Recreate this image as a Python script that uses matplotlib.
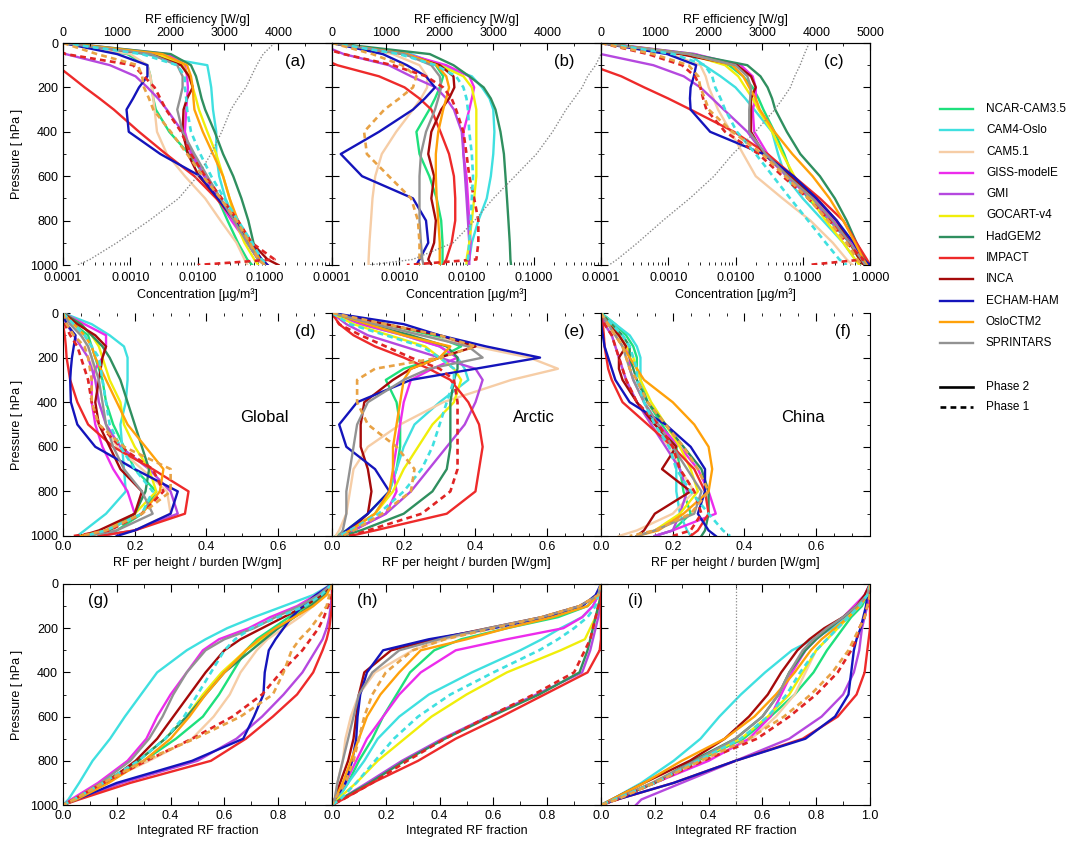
import matplotlib.pyplot as plt
from matplotlib.lines import Line2D
from matplotlib.ticker import FixedLocator, MultipleLocator, LogLocator, NullFormatter

plt.rcParams['font.family'] = ['Liberation Sans', 'DejaVu Sans']
plt.rcParams['font.size'] = 9

# pressure levels [hPa], shared by every profile
levels = [0, 50, 100, 150, 200, 250, 300, 400, 500, 600, 700, 800, 900, 975, 1000]

models = ['NCAR-CAM3.5', 'CAM4-Oslo', 'CAM5.1', 'GISS-modelE', 'GMI', 'GOCART-v4',
          'HadGEM2', 'IMPACT', 'INCA', 'ECHAM-HAM', 'OsloCTM2', 'SPRINTARS']
colors = ['#1ee07c', '#3fe0e0', '#f6cda6', '#ec2cec', '#b548df', '#f0ee0a',
          '#2f8f5f', '#ee2a2a', '#a50a0a', '#1414bb', '#ffa10a', '#929292']
phase1 = ['IMPACT', 'CAM4-Oslo', 'OsloCTM2']
phase1_colors = ['#e02424', '#3fe0e0', '#e8a245']

# (a) concentration, global [ug/m3]
conc_global = {
    'NCAR-CAM3.5': [1.0e-4, 9.0e-4, 1.8e-3, 2.0e-3, 2.1e-3, 2.2e-3, 2.4e-3, 3.8e-3, 7.5e-3, 1.3e-2, 2.0e-2, 2.8e-2, 4.0e-2, 5.5e-2, 6.5e-2],
    'CAM4-Oslo': [1.2e-4, 1.6e-3, 1.4e-2, 1.5e-2, 1.6e-2, 1.65e-2, 1.7e-2, 1.9e-2, 1.9e-2, 2.1e-2, 2.6e-2, 3.6e-2, 5.5e-2, 8.0e-2, 1.0e-1],
    'CAM5.1': [1.0e-4, 1.0e-3, 1.8e-3, 2.0e-3, 2.1e-3, 2.2e-3, 2.3e-3, 2.5e-3, 3.5e-3, 6.5e-3, 1.3e-2, 2.2e-2, 3.8e-2, 5.0e-2, 5.5e-2],
    'GISS-modelE': [1.1e-4, 3.6e-3, 6.5e-3, 7.0e-3, 7.2e-3, 7.0e-3, 6.8e-3, 6.5e-3, 8.0e-3, 1.3e-2, 2.0e-2, 3.2e-2, 5.5e-2, 8.0e-2, 1.0e-1],
    'GMI': [5.0e-5, 1.1e-4, 5.0e-4, 1.2e-3, 1.8e-3, 2.6e-3, 3.5e-3, 6.0e-3, 8.5e-3, 1.25e-2, 2.2e-2, 3.5e-2, 5.5e-2, 8.0e-2, 1.0e-1],
    'GOCART-v4': [1.1e-4, 2.5e-3, 6.0e-3, 7.5e-3, 8.5e-3, 9.5e-3, 1.05e-2, 1.4e-2, 1.9e-2, 2.4e-2, 3.0e-2, 3.6e-2, 5.0e-2, 7.0e-2, 8.0e-2],
    'HadGEM2': [1.1e-4, 4.0e-3, 8.0e-3, 9.5e-3, 1.05e-2, 1.15e-2, 1.3e-2, 1.8e-2, 2.4e-2, 3.4e-2, 4.5e-2, 5.7e-2, 6.8e-2, 8.5e-2, 1.0e-1],
    'IMPACT': [3.0e-5, 5.0e-5, 8.0e-5, 1.3e-4, 2.1e-4, 3.5e-4, 5.7e-4, 1.35e-3, 3.4e-3, 9.0e-3, 1.9e-2, 3.6e-2, 6.0e-2, 9.0e-2, 1.1e-1],
    'INCA': [1.0e-4, 2.0e-3, 5.7e-3, 7.5e-3, 8.5e-3, 7.0e-3, 6.2e-3, 6.0e-3, 7.2e-3, 1.05e-2, 2.0e-2, 3.6e-2, 6.4e-2, 1.1e-1, 1.6e-1],
    'ECHAM-HAM': [1.0e-4, 6.4e-4, 1.8e-3, 1.8e-3, 1.35e-3, 1.1e-3, 8.8e-4, 9.5e-4, 2.8e-3, 1.1e-2, 2.0e-2, 3.6e-2, 6.0e-2, 9.0e-2, 1.1e-1],
    'OsloCTM2': [1.1e-4, 3.0e-3, 7.0e-3, 8.0e-3, 8.5e-3, 8.7e-3, 9.0e-3, 1.2e-2, 1.7e-2, 2.4e-2, 3.0e-2, 4.0e-2, 6.0e-2, 8.5e-2, 1.0e-1],
    'SPRINTARS': [1.0e-4, 2.0e-3, 5.0e-3, 6.0e-3, 6.0e-3, 5.5e-3, 5.0e-3, 6.0e-3, 9.0e-3, 1.4e-2, 2.2e-2, 3.5e-2, 5.5e-2, 8.0e-2, 1.0e-1],
    'IMPACT p1': [5.0e-5, 1.1e-4, 1.1e-3, 1.6e-3, 2.3e-3, 2.8e-3, 3.4e-3, 5.7e-3, 8.0e-3, 1.3e-2, 2.3e-2, 4.0e-2, 6.4e-2, 1.4e-1, 1.0e-2],
    'CAM4-Oslo p1': [1.0e-4, 1.5e-3, 5.0e-3, 6.5e-3, 6.5e-3, 6.8e-3, 7.0e-3, 8.0e-3, 1.1e-2, 1.6e-2, 2.5e-2, 4.0e-2, 6.5e-2, 9.0e-2, 1.1e-1],
    'OsloCTM2 p1': [1.0e-4, 3.2e-4, 1.3e-3, 1.5e-3, 1.6e-3, 1.9e-3, 2.2e-3, 4.0e-3, 7.0e-3, 1.2e-2, 2.2e-2, 3.8e-2, 6.0e-2, 8.0e-2, 1.0e-1],
}

# (b) concentration, Arctic
conc_arctic = {
    'NCAR-CAM3.5': [1.0e-4, 1.3e-3, 3.5e-3, 4.5e-3, 4.0e-3, 3.4e-3, 2.8e-3, 1.8e-3, 2.0e-3, 2.8e-3, 3.6e-3, 4.2e-3, 4.4e-3, 4.4e-3, 4.4e-3],
    'CAM4-Oslo': [1.0e-4, 1.5e-3, 4.0e-3, 1.2e-2, 1.7e-2, 2.2e-2, 2.5e-2, 2.6e-2, 2.5e-2, 2.3e-2, 2.0e-2, 1.5e-2, 1.2e-2, 1.1e-2, 1.0e-2],
    'CAM5.1': [1.0e-4, 8.0e-4, 2.0e-3, 2.6e-3, 2.6e-3, 2.1e-3, 1.6e-3, 9.0e-4, 5.5e-4, 4.4e-4, 4.0e-4, 3.8e-4, 3.6e-4, 3.5e-4, 3.5e-4],
    'GISS-modelE': [1.0e-4, 1.3e-3, 5.0e-3, 1.1e-2, 1.3e-2, 1.2e-2, 1.1e-2, 9.0e-3, 9.0e-3, 1.0e-2, 1.05e-2, 1.1e-2, 1.15e-2, 1.1e-2, 1.05e-2],
    'GMI': [6.0e-5, 1.5e-4, 7.0e-4, 1.5e-3, 3.5e-3, 5.0e-3, 6.5e-3, 8.5e-3, 9.0e-3, 9.5e-3, 1.0e-2, 1.05e-2, 1.1e-2, 1.1e-2, 1.1e-2],
    'GOCART-v4': [1.0e-4, 1.2e-3, 4.0e-3, 9.0e-3, 1.2e-2, 1.3e-2, 1.4e-2, 1.4e-2, 1.4e-2, 1.4e-2, 1.3e-2, 1.2e-2, 1.1e-2, 1.0e-2, 1.0e-2],
    'HadGEM2': [1.0e-4, 2.85e-3, 6.4e-3, 1.1e-2, 1.8e-2, 2.3e-2, 2.7e-2, 3.2e-2, 3.6e-2, 3.8e-2, 4.0e-2, 4.2e-2, 4.4e-2, 4.5e-2, 4.6e-2],
    'IMPACT': [3.0e-5, 5.0e-5, 1.2e-4, 5.0e-4, 1.2e-3, 2.0e-3, 3.0e-3, 4.1e-3, 5.5e-3, 6.5e-3, 6.8e-3, 6.8e-3, 6.0e-3, 5.0e-3, 4.5e-3],
    'INCA': [1.0e-4, 1.2e-3, 4.0e-3, 6.4e-3, 6.6e-3, 5.5e-3, 4.2e-3, 3.0e-3, 2.7e-3, 3.3e-3, 3.0e-3, 3.5e-3, 3.3e-3, 2.7e-3, 3.0e-3],
    'ECHAM-HAM': [1.0e-4, 5.7e-4, 1.3e-3, 2.5e-3, 3.4e-3, 2.4e-3, 1.6e-3, 5.0e-4, 1.35e-4, 2.8e-4, 1.6e-3, 2.5e-3, 2.7e-3, 2.0e-3, 1.8e-3],
    'OsloCTM2': [1.0e-4, 1.3e-3, 3.6e-3, 5.0e-3, 5.5e-3, 5.0e-3, 4.5e-3, 3.8e-3, 3.5e-3, 3.5e-3, 3.6e-3, 3.8e-3, 4.0e-3, 4.0e-3, 4.0e-3],
    'SPRINTARS': [1.0e-4, 1.2e-3, 3.0e-3, 4.0e-3, 4.2e-3, 3.8e-3, 3.4e-3, 2.5e-3, 2.1e-3, 2.0e-3, 2.0e-3, 2.0e-3, 2.1e-3, 2.2e-3, 2.3e-3],
    'IMPACT p1': [4.0e-5, 1.5e-4, 8.0e-4, 2.5e-3, 4.5e-3, 6.0e-3, 7.0e-3, 9.0e-3, 1.0e-2, 1.1e-2, 1.3e-2, 1.5e-2, 1.5e-2, 1.4e-2, 1.3e-3],
    'CAM4-Oslo p1': [1.0e-4, 1.0e-3, 3.5e-3, 7.0e-3, 9.0e-3, 1.0e-2, 1.05e-2, 1.1e-2, 1.2e-2, 1.25e-2, 1.2e-2, 1.15e-2, 1.1e-2, 1.05e-2, 1.0e-2],
    'OsloCTM2 p1': [1.0e-4, 4.0e-4, 1.1e-3, 1.8e-3, 1.6e-3, 1.0e-3, 6.0e-4, 3.0e-4, 3.3e-4, 7.0e-4, 1.5e-3, 1.9e-3, 2.0e-3, 2.0e-3, 2.0e-3],
}

# (c) concentration, China
conc_china = {
    'NCAR-CAM3.5': [1.0e-4, 2.5e-3, 8.0e-3, 1.3e-2, 1.8e-2, 2.2e-2, 2.6e-2, 3.8e-2, 5.3e-2, 7.0e-2, 1.2e-1, 2.5e-1, 5.0e-1, 7.0e-1, 8.0e-1],
    'CAM4-Oslo': [1.0e-4, 2.0e-3, 3.4e-3, 6.0e-3, 1.0e-2, 1.4e-2, 1.9e-2, 3.5e-2, 4.3e-2, 5.5e-2, 1.0e-1, 2.0e-1, 4.0e-1, 6.0e-1, 7.0e-1],
    'CAM5.1': [1.0e-4, 1.1e-3, 3.0e-3, 3.6e-3, 4.0e-3, 4.7e-3, 5.5e-3, 8.5e-3, 1.3e-2, 2.0e-2, 5.0e-2, 1.3e-1, 2.8e-1, 4.5e-1, 5.5e-1],
    'GISS-modelE': [1.1e-4, 2.5e-3, 1.2e-2, 1.8e-2, 2.0e-2, 2.0e-2, 1.8e-2, 1.9e-2, 3.0e-2, 6.5e-2, 1.5e-1, 3.0e-1, 5.5e-1, 8.0e-1, 9.0e-1],
    'GMI': [5.0e-5, 1.0e-4, 6.0e-4, 1.7e-3, 3.0e-3, 4.5e-3, 6.7e-3, 1.5e-2, 2.65e-2, 5.8e-2, 1.3e-1, 2.6e-1, 5.0e-1, 8.0e-1, 1.0],
    'GOCART-v4': [1.0e-4, 2.0e-3, 7.0e-3, 1.1e-2, 1.4e-2, 1.8e-2, 2.2e-2, 3.5e-2, 5.0e-2, 7.5e-2, 1.3e-1, 2.2e-1, 4.0e-1, 6.0e-1, 7.0e-1],
    'HadGEM2': [1.0e-4, 2.15e-3, 1.5e-2, 2.35e-2, 3.0e-2, 3.5e-2, 3.9e-2, 5.8e-2, 9.2e-2, 1.8e-1, 3.0e-1, 4.5e-1, 6.3e-1, 8.5e-1, 9.5e-1],
    'IMPACT': [3.0e-5, 5.0e-5, 7.0e-5, 2.0e-4, 4.4e-4, 1.0e-3, 2.15e-3, 9.5e-3, 3.0e-2, 7.3e-2, 1.8e-1, 4.0e-1, 6.3e-1, 9.0e-1, 1.0],
    'INCA': [1.0e-4, 1.5e-3, 1.05e-2, 1.7e-2, 2.0e-2, 1.7e-2, 1.7e-2, 1.7e-2, 2.65e-2, 6.5e-2, 1.6e-1, 3.2e-1, 5.0e-1, 7.0e-1, 8.0e-1],
    'ECHAM-HAM': [1.0e-4, 9.7e-4, 2.6e-3, 2.4e-3, 2.15e-3, 2.1e-3, 2.15e-3, 4.2e-3, 2.6e-2, 7.3e-2, 1.6e-1, 3.2e-1, 5.7e-1, 8.0e-1, 1.0],
    'OsloCTM2': [1.0e-4, 2.0e-3, 9.0e-3, 1.3e-2, 1.6e-2, 2.0e-2, 2.3e-2, 3.8e-2, 7.0e-2, 1.4e-1, 2.5e-1, 4.0e-1, 6.0e-1, 8.0e-1, 9.0e-1],
    'SPRINTARS': [1.0e-4, 2.0e-3, 1.0e-2, 1.5e-2, 1.7e-2, 1.65e-2, 1.6e-2, 1.6e-2, 2.8e-2, 6.0e-2, 1.4e-1, 2.8e-1, 5.0e-1, 7.5e-1, 8.5e-1],
    'IMPACT p1': [1.0e-4, 5.0e-4, 1.6e-3, 2.5e-3, 3.0e-3, 3.3e-3, 3.7e-3, 7.0e-3, 2.2e-2, 5.0e-2, 1.2e-1, 2.5e-1, 4.5e-1, 8.0e-1, 1.2e-1],
    'CAM4-Oslo p1': [1.0e-4, 1.2e-3, 3.5e-3, 4.5e-3, 5.0e-3, 6.0e-3, 7.0e-3, 1.05e-2, 2.0e-2, 3.6e-2, 6.5e-2, 1.2e-1, 2.2e-1, 3.5e-1, 4.5e-1],
    'OsloCTM2 p1': [1.0e-4, 6.0e-4, 2.0e-3, 2.8e-3, 3.0e-3, 3.5e-3, 4.0e-3, 9.0e-3, 2.5e-2, 5.5e-2, 1.2e-1, 2.4e-1, 4.5e-1, 6.5e-1, 7.5e-1],
}

# RF efficiency [W/g] (dotted, top axis)
eff_global = [3930, 3720, 3600, 3500, 3400, 3250, 3120, 2950, 2750, 2500, 2150, 1600, 1000, 500, 270]
eff_arctic = [5200, 5000, 4900, 4750, 4650, 4500, 4350, 4100, 3800, 3400, 3000, 2650, 2250, 1500, 700]
eff_china = [3870, 3780, 3700, 3600, 3520, 3380, 3230, 2870, 2450, 2100, 1650, 1150, 680, 300, 150]

# (d)-(f) RF per height / burden [W/gm]
rfh_global = {
    'NCAR-CAM3.5': [0, 0.03, 0.07, 0.08, 0.09, 0.10, 0.11, 0.12, 0.14, 0.17, 0.20, 0.26, 0.22, 0.15, 0.12],
    'CAM4-Oslo': [0, 0.08, 0.13, 0.17, 0.18, 0.18, 0.18, 0.175, 0.16, 0.165, 0.17, 0.175, 0.12, 0.06, 0.04],
    'CAM5.1': [0, 0.02, 0.05, 0.07, 0.08, 0.085, 0.09, 0.10, 0.12, 0.15, 0.22, 0.29, 0.30, 0.20, 0.10],
    'GISS-modelE': [0, 0.06, 0.12, 0.12, 0.11, 0.09, 0.08, 0.08, 0.09, 0.11, 0.14, 0.18, 0.20, 0.12, 0.06],
    'GMI': [0, 0.01, 0.03, 0.05, 0.07, 0.08, 0.09, 0.10, 0.12, 0.16, 0.24, 0.30, 0.32, 0.20, 0.10],
    'GOCART-v4': [0, 0.05, 0.08, 0.10, 0.11, 0.12, 0.13, 0.16, 0.17, 0.20, 0.24, 0.26, 0.20, 0.12, 0.08],
    'HadGEM2': [0, 0.05, 0.08, 0.11, 0.13, 0.145, 0.16, 0.18, 0.20, 0.22, 0.24, 0.23, 0.20, 0.13, 0.10],
    'IMPACT': [0, 0.0, 0.005, 0.008, 0.01, 0.015, 0.02, 0.04, 0.07, 0.14, 0.25, 0.35, 0.34, 0.20, 0.10],
    'INCA': [0, 0.04, 0.09, 0.12, 0.11, 0.105, 0.10, 0.09, 0.10, 0.13, 0.16, 0.22, 0.20, 0.10, 0.05],
    'ECHAM-HAM': [0, 0.01, 0.035, 0.03, 0.025, 0.022, 0.02, 0.022, 0.04, 0.09, 0.20, 0.32, 0.30, 0.20, 0.15],
    'OsloCTM2': [0, 0.03, 0.06, 0.08, 0.09, 0.105, 0.12, 0.15, 0.18, 0.23, 0.28, 0.27, 0.22, 0.12, 0.05],
    'SPRINTARS': [0, 0.02, 0.05, 0.07, 0.08, 0.09, 0.10, 0.11, 0.12, 0.14, 0.17, 0.22, 0.25, 0.15, 0.07],
    'IMPACT p1': [0, 0.005, 0.02, 0.04, 0.05, 0.06, 0.07, 0.08, 0.10, 0.16, 0.25, 0.28, 0.22, 0.13, 0.03],
    'CAM4-Oslo p1': [0, 0.03, 0.06, 0.08, 0.10, 0.105, 0.11, 0.12, 0.13, 0.16, 0.20, 0.25, 0.22, 0.12, 0.06],
    'OsloCTM2 p1': [0, 0.01, 0.03, 0.06, 0.07, 0.075, 0.08, 0.08, 0.10, 0.17, 0.30, 0.30, 0.22, 0.12, 0.05],
}

rfh_arctic = {
    'NCAR-CAM3.5': [0, 0.15, 0.28, 0.36, 0.30, 0.20, 0.15, 0.18, 0.19, 0.19, 0.18, 0.16, 0.10, 0.04, 0.01],
    'CAM4-Oslo': [0, 0.08, 0.20, 0.30, 0.35, 0.37, 0.38, 0.30, 0.23, 0.20, 0.18, 0.16, 0.12, 0.05, 0.02],
    'CAM5.1': [0, 0.12, 0.25, 0.40, 0.55, 0.63, 0.50, 0.31, 0.19, 0.10, 0.06, 0.05, 0.04, 0.02, 0.01],
    'GISS-modelE': [0, 0.08, 0.20, 0.30, 0.35, 0.28, 0.22, 0.20, 0.19, 0.18, 0.17, 0.18, 0.15, 0.06, 0.02],
    'GMI': [0, 0.04, 0.10, 0.20, 0.30, 0.40, 0.42, 0.40, 0.37, 0.32, 0.27, 0.22, 0.15, 0.06, 0.02],
    'GOCART-v4': [0, 0.06, 0.16, 0.26, 0.30, 0.34, 0.36, 0.34, 0.28, 0.24, 0.20, 0.17, 0.12, 0.05, 0.02],
    'HadGEM2': [0, 0.10, 0.22, 0.32, 0.35, 0.35, 0.34, 0.33, 0.33, 0.33, 0.32, 0.28, 0.20, 0.08, 0.03],
    'IMPACT': [0, 0.02, 0.06, 0.12, 0.20, 0.27, 0.33, 0.38, 0.41, 0.42, 0.41, 0.40, 0.32, 0.12, 0.05],
    'INCA': [0, 0.15, 0.30, 0.40, 0.30, 0.22, 0.17, 0.09, 0.08, 0.08, 0.10, 0.11, 0.10, 0.05, 0.03],
    'ECHAM-HAM': [0, 0.20, 0.30, 0.43, 0.58, 0.40, 0.22, 0.07, 0.02, 0.04, 0.12, 0.16, 0.10, 0.04, 0.02],
    'OsloCTM2': [0, 0.10, 0.20, 0.33, 0.30, 0.22, 0.20, 0.19, 0.18, 0.17, 0.17, 0.16, 0.12, 0.05, 0.02],
    'SPRINTARS': [0, 0.12, 0.25, 0.38, 0.42, 0.27, 0.20, 0.10, 0.07, 0.06, 0.05, 0.04, 0.04, 0.03, 0.02],
    'IMPACT p1': [0, 0.02, 0.08, 0.15, 0.22, 0.30, 0.34, 0.35, 0.35, 0.35, 0.35, 0.33, 0.25, 0.10, 0.05],
    'CAM4-Oslo p1': [0, 0.05, 0.15, 0.25, 0.30, 0.34, 0.34, 0.32, 0.30, 0.28, 0.25, 0.20, 0.13, 0.05, 0.02],
    'OsloCTM2 p1': [0, 0.15, 0.30, 0.40, 0.30, 0.12, 0.07, 0.07, 0.10, 0.18, 0.23, 0.22, 0.14, 0.06, 0.03],
}

rfh_china = {
    'NCAR-CAM3.5': [0, 0.04, 0.07, 0.09, 0.10, 0.10, 0.11, 0.13, 0.17, 0.21, 0.22, 0.23, 0.25, 0.20, 0.15],
    'CAM4-Oslo': [0, 0.04, 0.08, 0.10, 0.11, 0.11, 0.11, 0.12, 0.15, 0.20, 0.21, 0.21, 0.22, 0.24, 0.25],
    'CAM5.1': [0, 0.01, 0.03, 0.04, 0.05, 0.06, 0.07, 0.10, 0.14, 0.19, 0.22, 0.26, 0.20, 0.10, 0.05],
    'GISS-modelE': [0, 0.02, 0.05, 0.07, 0.08, 0.08, 0.09, 0.12, 0.16, 0.22, 0.27, 0.30, 0.32, 0.20, 0.15],
    'GMI': [0, 0.01, 0.03, 0.04, 0.05, 0.06, 0.07, 0.10, 0.14, 0.18, 0.22, 0.24, 0.22, 0.20, 0.15],
    'GOCART-v4': [0, 0.03, 0.05, 0.07, 0.09, 0.10, 0.11, 0.14, 0.18, 0.22, 0.25, 0.27, 0.22, 0.15, 0.10],
    'HadGEM2': [0, 0.03, 0.06, 0.08, 0.08, 0.09, 0.10, 0.13, 0.18, 0.23, 0.28, 0.30, 0.30, 0.29, 0.28],
    'IMPACT': [0, 0.005, 0.008, 0.01, 0.015, 0.02, 0.03, 0.06, 0.13, 0.20, 0.26, 0.29, 0.30, 0.27, 0.25],
    'INCA': [0, 0.02, 0.05, 0.07, 0.05, 0.05, 0.06, 0.10, 0.15, 0.21, 0.17, 0.25, 0.15, 0.12, 0.10],
    'ECHAM-HAM': [0, 0.0, 0.005, 0.01, 0.02, 0.03, 0.04, 0.08, 0.18, 0.25, 0.29, 0.29, 0.27, 0.30, 0.32],
    'OsloCTM2': [0, 0.02, 0.04, 0.06, 0.08, 0.10, 0.12, 0.20, 0.26, 0.30, 0.31, 0.30, 0.23, 0.16, 0.10],
    'SPRINTARS': [0, 0.02, 0.04, 0.06, 0.07, 0.08, 0.09, 0.12, 0.16, 0.20, 0.24, 0.28, 0.26, 0.15, 0.10],
    'IMPACT p1': [0, 0.01, 0.03, 0.04, 0.05, 0.06, 0.07, 0.10, 0.16, 0.20, 0.22, 0.26, 0.28, 0.25, 0.20],
    'CAM4-Oslo p1': [0, 0.03, 0.06, 0.08, 0.09, 0.10, 0.10, 0.12, 0.15, 0.19, 0.21, 0.25, 0.30, 0.34, 0.36],
    'OsloCTM2 p1': [0, 0.02, 0.04, 0.06, 0.07, 0.08, 0.10, 0.13, 0.18, 0.23, 0.27, 0.30, 0.25, 0.15, 0.08],
}

# (g)-(i) integrated RF fraction
cum_global = {
    'NCAR-CAM3.5': [1.0, 0.97, 0.91, 0.84, 0.78, 0.72, 0.68, 0.63, 0.58, 0.52, 0.42, 0.30, 0.15, 0.04, 0.0],
    'CAM4-Oslo': [1.0, 0.93, 0.82, 0.71, 0.61, 0.53, 0.46, 0.35, 0.29, 0.23, 0.175, 0.11, 0.06, 0.02, 0.0],
    'CAM5.1': [1.0, 0.97, 0.93, 0.88, 0.82, 0.76, 0.72, 0.66, 0.62, 0.56, 0.48, 0.32, 0.15, 0.04, 0.0],
    'GISS-modelE': [1.0, 0.94, 0.87, 0.77, 0.69, 0.58, 0.52, 0.46, 0.40, 0.35, 0.31, 0.24, 0.13, 0.03, 0.0],
    'GMI': [1.0, 1.0, 0.995, 0.99, 0.98, 0.965, 0.94, 0.89, 0.82, 0.74, 0.645, 0.50, 0.22, 0.05, 0.0],
    'GOCART-v4': [1.0, 0.97, 0.92, 0.86, 0.80, 0.74, 0.68, 0.59, 0.52, 0.46, 0.38, 0.28, 0.15, 0.04, 0.0],
    'HadGEM2': [1.0, 0.97, 0.92, 0.86, 0.80, 0.75, 0.70, 0.60, 0.53, 0.46, 0.38, 0.28, 0.15, 0.04, 0.0],
    'IMPACT': [1.0, 1.0, 1.0, 0.995, 0.99, 0.98, 0.965, 0.93, 0.87, 0.78, 0.68, 0.55, 0.25, 0.06, 0.0],
    'INCA': [1.0, 0.96, 0.90, 0.82, 0.74, 0.66, 0.60, 0.53, 0.47, 0.41, 0.35, 0.27, 0.16, 0.04, 0.0],
    'ECHAM-HAM': [1.0, 0.94, 0.89, 0.85, 0.82, 0.79, 0.765, 0.75, 0.745, 0.71, 0.67, 0.48, 0.20, 0.05, 0.0],
    'OsloCTM2': [1.0, 0.98, 0.93, 0.86, 0.79, 0.73, 0.68, 0.60, 0.53, 0.47, 0.40, 0.30, 0.17, 0.05, 0.0],
    'SPRINTARS': [1.0, 0.95, 0.88, 0.79, 0.71, 0.60, 0.53, 0.46, 0.41, 0.37, 0.32, 0.25, 0.14, 0.04, 0.0],
    'IMPACT p1': [1.0, 1.0, 0.985, 0.97, 0.95, 0.92, 0.89, 0.81, 0.74, 0.63, 0.48, 0.31, 0.15, 0.04, 0.0],
    'CAM4-Oslo p1': [1.0, 0.96, 0.90, 0.80, 0.70, 0.64, 0.60, 0.55, 0.50, 0.45, 0.38, 0.28, 0.15, 0.04, 0.0],
    'OsloCTM2 p1': [1.0, 0.99, 0.98, 0.95, 0.92, 0.88, 0.85, 0.82, 0.78, 0.66, 0.49, 0.30, 0.15, 0.04, 0.0],
}

cum_arctic = {
    'NCAR-CAM3.5': [1.0, 0.99, 0.95, 0.84, 0.65, 0.48, 0.38, 0.29, 0.24, 0.19, 0.15, 0.10, 0.06, 0.02, 0.0],
    'CAM4-Oslo': [1.0, 0.99, 0.97, 0.93, 0.85, 0.78, 0.70, 0.52, 0.36, 0.25, 0.17, 0.12, 0.06, 0.02, 0.0],
    'CAM5.1': [1.0, 0.99, 0.92, 0.78, 0.60, 0.42, 0.30, 0.16, 0.10, 0.07, 0.05, 0.04, 0.02, 0.01, 0.0],
    'GISS-modelE': [1.0, 0.99, 0.97, 0.93, 0.86, 0.65, 0.46, 0.33, 0.25, 0.19, 0.13, 0.09, 0.05, 0.01, 0.0],
    'GMI': [1.0, 1.0, 0.995, 0.99, 0.98, 0.97, 0.96, 0.93, 0.76, 0.58, 0.41, 0.26, 0.13, 0.03, 0.0],
    'GOCART-v4': [1.0, 1.0, 0.99, 0.98, 0.96, 0.94, 0.85, 0.65, 0.50, 0.37, 0.27, 0.17, 0.09, 0.02, 0.0],
    'HadGEM2': [1.0, 1.0, 0.99, 0.98, 0.97, 0.96, 0.95, 0.92, 0.77, 0.59, 0.42, 0.27, 0.14, 0.03, 0.0],
    'IMPACT': [1.0, 1.0, 1.0, 1.0, 1.0, 1.0, 0.995, 0.95, 0.79, 0.63, 0.46, 0.32, 0.15, 0.04, 0.0],
    'INCA': [1.0, 0.99, 0.92, 0.78, 0.58, 0.38, 0.22, 0.12, 0.10, 0.09, 0.08, 0.06, 0.03, 0.01, 0.0],
    'ECHAM-HAM': [1.0, 0.98, 0.93, 0.80, 0.60, 0.36, 0.19, 0.13, 0.105, 0.095, 0.09, 0.075, 0.05, 0.01, 0.0],
    'OsloCTM2': [1.0, 0.99, 0.95, 0.82, 0.65, 0.50, 0.33, 0.25, 0.18, 0.13, 0.10, 0.07, 0.04, 0.01, 0.0],
    'SPRINTARS': [1.0, 0.99, 0.92, 0.78, 0.58, 0.40, 0.25, 0.15, 0.10, 0.08, 0.06, 0.04, 0.02, 0.01, 0.0],
    'IMPACT p1': [1.0, 1.0, 0.99, 0.98, 0.97, 0.96, 0.94, 0.90, 0.75, 0.58, 0.42, 0.28, 0.15, 0.04, 0.0],
    'CAM4-Oslo p1': [1.0, 0.99, 0.98, 0.95, 0.90, 0.84, 0.77, 0.60, 0.44, 0.32, 0.23, 0.16, 0.09, 0.03, 0.0],
    'OsloCTM2 p1': [1.0, 0.99, 0.92, 0.78, 0.60, 0.42, 0.30, 0.20, 0.15, 0.12, 0.10, 0.08, 0.05, 0.01, 0.0],
}

cum_china = {
    'NCAR-CAM3.5': [1.0, 0.99, 0.97, 0.93, 0.90, 0.87, 0.84, 0.79, 0.72, 0.63, 0.53, 0.36, 0.20, 0.05, 0.0],
    'CAM4-Oslo': [1.0, 0.99, 0.96, 0.91, 0.86, 0.79, 0.71, 0.61, 0.52, 0.44, 0.37, 0.27, 0.15, 0.04, 0.0],
    'CAM5.1': [1.0, 0.99, 0.96, 0.92, 0.88, 0.84, 0.80, 0.76, 0.72, 0.65, 0.56, 0.38, 0.20, 0.05, 0.0],
    'GISS-modelE': [1.0, 0.98, 0.94, 0.90, 0.85, 0.80, 0.76, 0.71, 0.67, 0.63, 0.55, 0.40, 0.20, 0.05, 0.0],
    'GMI': [1.0, 1.0, 0.99, 0.98, 0.97, 0.965, 0.96, 0.94, 0.90, 0.82, 0.70, 0.50, 0.30, 0.15, 0.13],
    'GOCART-v4': [1.0, 0.99, 0.96, 0.92, 0.88, 0.84, 0.80, 0.75, 0.70, 0.62, 0.52, 0.35, 0.19, 0.05, 0.0],
    'HadGEM2': [1.0, 0.99, 0.95, 0.90, 0.85, 0.80, 0.76, 0.70, 0.66, 0.60, 0.50, 0.34, 0.20, 0.05, 0.0],
    'IMPACT': [1.0, 1.0, 1.0, 1.0, 1.0, 0.995, 0.99, 0.98, 0.95, 0.88, 0.75, 0.50, 0.27, 0.06, 0.0],
    'INCA': [1.0, 0.98, 0.95, 0.90, 0.83, 0.775, 0.73, 0.67, 0.62, 0.55, 0.46, 0.33, 0.16, 0.04, 0.0],
    'ECHAM-HAM': [1.0, 0.99, 0.985, 0.975, 0.965, 0.95, 0.94, 0.93, 0.92, 0.87, 0.76, 0.50, 0.27, 0.06, 0.0],
    'OsloCTM2': [1.0, 0.99, 0.96, 0.92, 0.87, 0.82, 0.78, 0.72, 0.65, 0.57, 0.46, 0.30, 0.16, 0.04, 0.0],
    'SPRINTARS': [1.0, 0.99, 0.95, 0.90, 0.84, 0.79, 0.75, 0.70, 0.66, 0.60, 0.50, 0.35, 0.19, 0.05, 0.0],
    'IMPACT p1': [1.0, 1.0, 0.99, 0.98, 0.96, 0.95, 0.93, 0.88, 0.80, 0.70, 0.58, 0.38, 0.20, 0.06, 0.0],
    'CAM4-Oslo p1': [1.0, 0.99, 0.96, 0.92, 0.88, 0.84, 0.80, 0.74, 0.69, 0.62, 0.52, 0.36, 0.20, 0.05, 0.0],
    'OsloCTM2 p1': [1.0, 1.0, 0.99, 0.98, 0.96, 0.94, 0.92, 0.86, 0.78, 0.68, 0.55, 0.37, 0.20, 0.06, 0.0],
}

region_names = ['Global', 'Arctic', 'China']
half_fraction = 0.5

W, H = 1068, 843
fig = plt.figure(figsize=(W / 100, H / 100), dpi=100)

col_left = [63, 332, 601]
col_w = 269
row_top = [43, 313, 584]
row_h = [222, 223, 221]


def new_ax(row, col):
    b = 1 - (row_top[row] + row_h[row]) / H
    return fig.add_axes([col_left[col] / W, b, col_w / W, row_h[row] / H])


def draw_profiles(ax, data):
    for name, c in zip(models, colors):
        ax.plot(data[name], levels, color=c, lw=1.7)
    for name, c in zip(phase1, phase1_colors):
        ax.plot(data[name + ' p1'], levels, color=c, lw=1.9, ls=(0, (2.2, 1.6)))


def style_y(ax, col):
    ax.set_ylim(1000, 0)
    ax.yaxis.set_major_locator(MultipleLocator(200))
    ax.yaxis.set_minor_locator(MultipleLocator(100))
    ax.tick_params(axis='y', which='both', direction='in', left=True, right=True)
    ax.tick_params(axis='y', which='major', length=5)
    ax.tick_params(axis='y', which='minor', length=2.5)
    if col == 0:
        ax.set_ylabel('Pressure [ hPa ]', labelpad=5)
    else:
        ax.set_yticklabels([])


letters = 'abcdefghi'

# top row: concentration + RF efficiency
for col, (data, eff) in enumerate([(conc_global, eff_global), (conc_arctic, eff_arctic),
                                   (conc_china, eff_china)]):
    ax = new_ax(0, col)
    draw_profiles(ax, data)
    ax.set_xscale('log')
    ax.set_xlim(1e-4, 1)
    style_y(ax, col)
    majors = [1e-4, 1e-3, 1e-2, 1e-1, 1.0]
    ax.xaxis.set_major_locator(FixedLocator(majors))
    ax.xaxis.set_minor_locator(LogLocator(base=10, subs=range(2, 10)))
    ax.xaxis.set_minor_formatter(NullFormatter())
    labs = ['0.0001', '0.0010', '0.0100', '0.1000', '1.0000']
    if col < 2:
        labs[-1] = ''
    ax.set_xticklabels(labs)
    ax.tick_params(axis='x', which='both', direction='in', top=False, bottom=True, pad=5)
    ax.tick_params(axis='x', which='major', length=6)
    ax.tick_params(axis='x', which='minor', length=2)
    ax.spines['bottom'].set_visible(False)
    ax.set_xlabel('Concentration [µg/m³]', labelpad=3)

    ax2 = ax.twiny()
    ax2.set_xlim(0, 5000)
    ax2.plot(eff, levels, color='#8a8a8a', lw=1.0, ls=(0, (1, 1.3)))
    top_ticks = [0, 1000, 2000, 3000, 4000, 5000] if col == 2 else [0, 1000, 2000, 3000, 4000]
    ax2.xaxis.set_major_locator(FixedLocator(top_ticks))
    ax2.xaxis.set_minor_locator(MultipleLocator(500))
    ax2.tick_params(axis='x', which='both', direction='in', top=True, bottom=False, pad=3)
    ax2.tick_params(axis='x', which='major', length=5)
    ax2.tick_params(axis='x', which='minor', length=2.5)
    ax2.spines['bottom'].set_visible(False)
    ax2.set_xlabel('RF efficiency [W/g]', labelpad=3)
    ax2.text(0.865, 0.915, '(' + letters[col] + ')', transform=ax2.transAxes,
             fontsize=12, ha='center', va='center')

# middle row: RF per height / burden
for col, data in enumerate([rfh_global, rfh_arctic, rfh_china]):
    ax = new_ax(1, col)
    draw_profiles(ax, data)
    ax.set_xlim(0, 0.75)
    style_y(ax, col)
    ax.xaxis.set_major_locator(FixedLocator([0, 0.2, 0.4, 0.6]))
    ax.xaxis.set_minor_locator(MultipleLocator(0.05))
    ax.set_xticklabels(['0.0', '0.2', '0.4', '0.6'])
    ax.tick_params(axis='x', which='both', direction='in', top=True, bottom=True)
    ax.tick_params(axis='x', which='major', length=6)
    ax.tick_params(axis='x', which='minor', length=2)
    ax.spines['top'].set_visible(False)
    ax.set_xlabel('RF per height / burden [W/gm]', labelpad=3)
    ax.text(0.9, 0.915, '(' + letters[3 + col] + ')', transform=ax.transAxes,
            fontsize=12, ha='center', va='center')
    ax.text(0.75, 0.53, region_names[col], transform=ax.transAxes,
            fontsize=12, ha='center', va='center')

# bottom row: integrated RF fraction
for col, data in enumerate([cum_global, cum_arctic, cum_china]):
    ax = new_ax(2, col)
    draw_profiles(ax, data)
    ax.set_xlim(0, 1)
    style_y(ax, col)
    ticks = [0, 0.2, 0.4, 0.6, 0.8, 1.0]
    ax.xaxis.set_major_locator(FixedLocator(ticks))
    ax.xaxis.set_minor_locator(MultipleLocator(0.1))
    labs = ['0.0', '0.2', '0.4', '0.6', '0.8', '1.0' if col == 2 else '']
    ax.set_xticklabels(labs)
    ax.tick_params(axis='x', which='both', direction='in', top=True, bottom=True)
    ax.tick_params(axis='x', which='major', length=6)
    ax.tick_params(axis='x', which='minor', length=3)
    ax.set_xlabel('Integrated RF fraction', labelpad=2)
    if col == 2:
        ax.axvline(half_fraction, color='#8a8a8a', lw=0.9, ls=(0, (1, 1.5)))
    ax.text(0.13, 0.925, '(' + letters[6 + col] + ')', transform=ax.transAxes,
            fontsize=12, ha='center', va='center')

# legend drawn on the figure
leg_y0, leg_dy = 109, 21.3
for i, (name, c) in enumerate(zip(models, colors)):
    y = 1 - (leg_y0 + i * leg_dy) / H
    fig.add_artist(Line2D([940 / W, 973 / W], [y, y], color=c, lw=1.7))
    fig.text(986 / W, y, name, fontsize=8.5, va='center', ha='left')
for y_px, ls, lab in [(387, '-', 'Phase 2'), (407, (0, (2.2, 1.6)), 'Phase 1')]:
    y = 1 - y_px / H
    fig.add_artist(Line2D([940 / W, 973 / W], [y, y], color='black', lw=1.9, ls=ls))
    fig.text(986 / W, y, lab, fontsize=8.5, va='center', ha='left')

fig.savefig('out.png', dpi=100)
